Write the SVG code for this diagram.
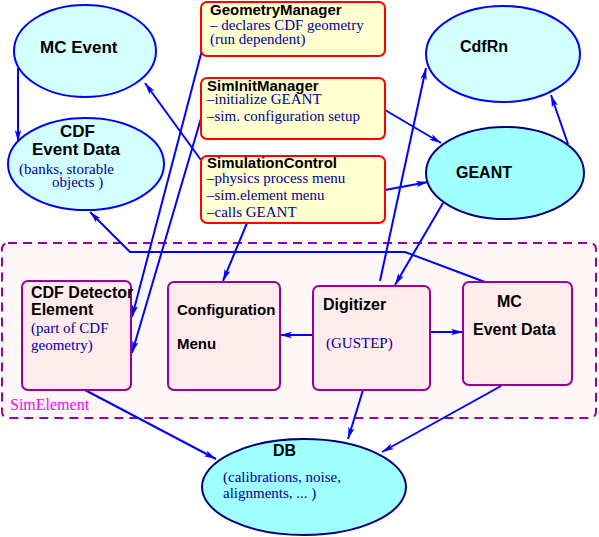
<svg xmlns="http://www.w3.org/2000/svg" width="599" height="537" viewBox="0 0 599 537">
<style>
.sans{font-family:"Liberation Sans",Arial,sans-serif;font-weight:bold;fill:#000;}
.ser{font-family:"Liberation Serif","Times New Roman",serif;fill:#000099;font-size:15px;}
.ell1{fill:#d4ffff;stroke:#0000ff;stroke-width:2;}
.ell2{fill:#a0ffff;stroke:#000080;stroke-width:2;}
.ybox{fill:#ffffd0;stroke:#ff0000;stroke-width:2;}
.pbox{fill:#ffeaec;stroke:#990099;stroke-width:2;}
.conn{fill:none;stroke:#0000ff;stroke-width:2;}
</style>
<defs>
<marker id="arr" markerUnits="userSpaceOnUse" markerWidth="12" markerHeight="8" refX="12" refY="4" orient="auto">
<path d="M0,0.8 L12,4 L0,7.2 L3,4 z" fill="#0000ff"/>
</marker>
</defs>

<g id="simelement">
<rect x="2" y="243" width="594" height="175" rx="6" ry="6" fill="#fdf7f7" stroke="#990099" stroke-width="2" stroke-dasharray="9,6"/>
<text x="10" y="410" font-family="Liberation Serif,'Times New Roman',serif" font-size="16" fill="#ff00ff">SimElement</text>
</g>

<g id="connectors">
<line class="conn" x1="18" y1="68" x2="18" y2="142" marker-end="url(#arr)"/>
<line class="conn" x1="201" y1="160" x2="145" y2="83" marker-end="url(#arr)"/>
<line class="conn" x1="202" y1="50" x2="132" y2="317" marker-end="url(#arr)"/>
<line class="conn" x1="202" y1="115" x2="132" y2="353" marker-end="url(#arr)"/>
<line class="conn" x1="385" y1="110" x2="441" y2="143" marker-end="url(#arr)"/>
<line class="conn" x1="385" y1="190" x2="428" y2="182" marker-end="url(#arr)"/>
<line class="conn" x1="247" y1="223" x2="223" y2="281" marker-end="url(#arr)"/>
<line class="conn" x1="568" y1="144" x2="551" y2="95" marker-end="url(#arr)"/>
<line class="conn" x1="380" y1="281" x2="426" y2="68" marker-end="url(#arr)"/>
<line class="conn" x1="443" y1="203" x2="395" y2="285" marker-end="url(#arr)"/>
<polyline class="conn" points="485,282 405,252 130,252 90,212" marker-end="url(#arr)"/>
<line class="conn" x1="313" y1="335" x2="280" y2="335" marker-end="url(#arr)"/>
<line class="conn" x1="430" y1="332" x2="463" y2="332" marker-end="url(#arr)"/>
<line class="conn" x1="85" y1="390" x2="216" y2="459" marker-end="url(#arr)"/>
<line class="conn" x1="363" y1="390" x2="348" y2="439" marker-end="url(#arr)"/>
<line class="conn" x1="501" y1="386" x2="382" y2="452" marker-end="url(#arr)"/>
</g>

<g id="mc-event">
<ellipse class="ell1" cx="85" cy="51" rx="71" ry="46"/>
<text class="sans" x="40" y="53" font-size="17">MC Event</text>
</g>

<g id="cdf-event-data">
<ellipse class="ell1" cx="86" cy="164" rx="78" ry="46"/>
<text class="sans" x="60" y="137" font-size="17">CDF</text>
<text class="sans" x="32" y="155" font-size="17">Event Data</text>
<text class="ser" x="19" y="174">(banks, storable</text>
<text class="ser" x="52" y="187">objects )</text>
</g>

<g id="geometry-manager">
<rect class="ybox" x="201" y="2" width="184" height="54" rx="6" ry="6"/>
<text class="sans" x="210" y="15" font-size="15">GeometryManager</text>
<text class="ser" x="210" y="30">– declares CDF geometry</text>
<text class="ser" x="210" y="44">(run dependent)</text>
</g>

<g id="sim-init-manager">
<rect class="ybox" x="201" y="78" width="184" height="61" rx="6" ry="6"/>
<text class="sans" x="207" y="91" font-size="15">SimInitManager</text>
<text class="ser" x="207" y="104">–initialize GEANT</text>
<text class="ser" x="207" y="121">–sim. configuration setup</text>
</g>

<g id="simulation-control">
<rect class="ybox" x="201" y="156" width="184" height="67" rx="6" ry="6"/>
<text class="sans" x="207" y="168" font-size="15">SimulationControl</text>
<text class="ser" x="207" y="183">–physics process menu</text>
<text class="ser" x="207" y="200">–sim.element menu</text>
<text class="ser" x="207" y="217">–calls GEANT</text>
</g>

<g id="cdfrn">
<ellipse class="ell1" cx="503" cy="54" rx="77" ry="48"/>
<text class="sans" x="460" y="52" font-size="16">CdfRn</text>
</g>

<g id="geant">
<ellipse class="ell2" cx="505" cy="173" rx="79" ry="46"/>
<text class="sans" x="456" y="178" font-size="16">GEANT</text>
</g>

<g id="cdf-detector-element">
<rect class="pbox" x="22" y="281" width="109" height="109" rx="6" ry="6"/>
<text class="sans" x="31" y="298" font-size="16">CDF Detector</text>
<text class="sans" x="31" y="315" font-size="16">Element</text>
<text class="ser" x="31" y="333">(part of CDF</text>
<text class="ser" x="31" y="350">geometry)</text>
</g>

<g id="configuration-menu">
<rect class="pbox" x="168" y="282" width="112" height="108" rx="6" ry="6"/>
<text class="sans" x="177" y="315" font-size="15">Configuration</text>
<text class="sans" x="177" y="349" font-size="15">Menu</text>
</g>

<g id="digitizer">
<rect class="pbox" x="313" y="286" width="117" height="104" rx="6" ry="6"/>
<text class="sans" x="323" y="310" font-size="16">Digitizer</text>
<text class="ser" x="326" y="348">(GUSTEP)</text>
</g>

<g id="mc-event-data">
<rect class="pbox" x="463" y="282" width="109" height="103" rx="6" ry="6"/>
<text class="sans" x="497" y="307" font-size="16">MC</text>
<text class="sans" x="473" y="335" font-size="16">Event Data</text>
</g>

<g id="db">
<ellipse class="ell2" cx="304" cy="487" rx="102" ry="48"/>
<text class="sans" x="273" y="456" font-size="16">DB</text>
<text class="ser" x="223" y="482">(calibrations, noise,</text>
<text class="ser" x="223" y="498">alignments, ... )</text>
</g>
</svg>
